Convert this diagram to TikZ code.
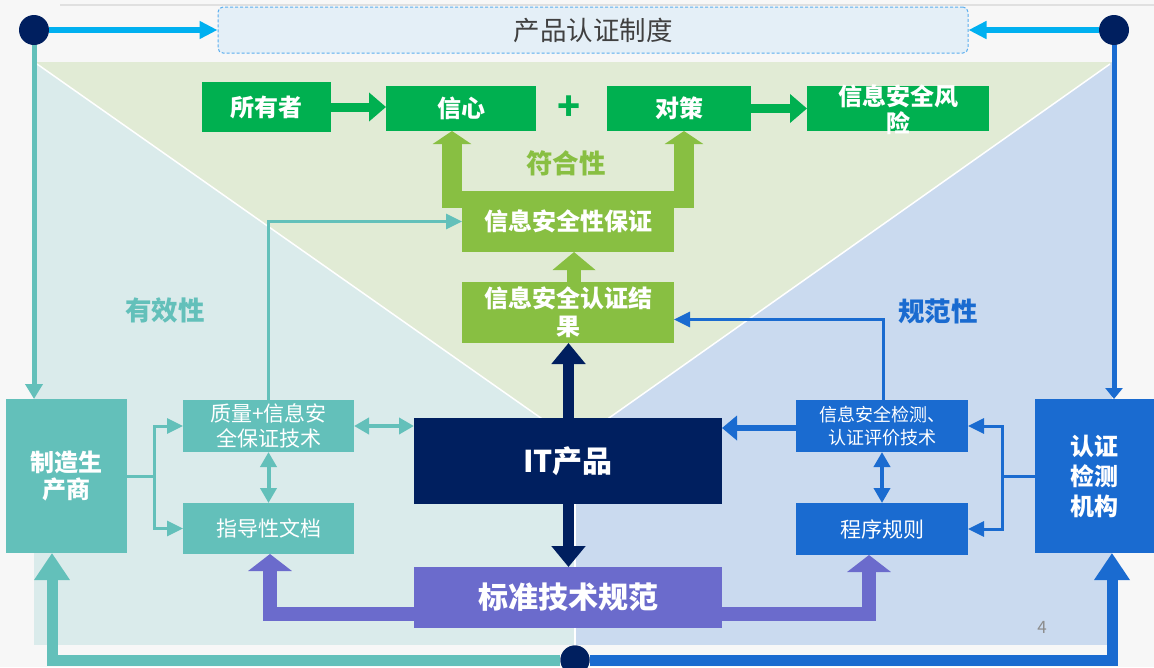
\documentclass[tikz,border=0pt]{standalone}
\usepackage{fontspec}
\setmainfont{Noto Sans CJK SC}
\usetikzlibrary{arrows.meta,calc}
\definecolor{bgc}{HTML}{F7F7F7}
\definecolor{lpanel}{HTML}{DAEBEB}
\definecolor{rpanel}{HTML}{CADAEF}
\definecolor{gpanel}{HTML}{E1EBD5}
\definecolor{tealc}{HTML}{63C0BA}
\definecolor{bluec}{HTML}{1A6BD0}
\definecolor{greenc}{HTML}{00B050}
\definecolor{lgreenc}{HTML}{88BF42}
\definecolor{navyc}{HTML}{001F5F}
\definecolor{purpc}{HTML}{6B6BCC}
\definecolor{cyanc}{HTML}{00B0F0}
\definecolor{topfill}{HTML}{E4EFF7}
\definecolor{topedge}{HTML}{5AAEEF}
\definecolor{toptext}{HTML}{404040}
\definecolor{pgc}{HTML}{8C8C8C}
\tikzset{
  box/.style={inner sep=0pt, outer sep=0pt, align=center, text=white},
  fbig/.style={font=\bfseries\fontsize{24}{27}\selectfont},
  fhuge/.style={font=\bfseries\fontsize{30}{33}\selectfont},
  fmid/.style={font=\fontsize{21}{25}\selectfont},
  fsmall/.style={font=\fontsize{18}{23}\selectfont},
  flabel/.style={font=\bfseries\fontsize{26.5}{30}\selectfont},
  cyanarr/.style={draw=cyanc, line width=6pt, -{Triangle[length=18pt,width=17pt]}},
  tealv/.style={draw=tealc, line width=5pt, -{Triangle[length=15pt,width=17pt]}},
  bluev/.style={draw=bluec, line width=5pt, -{Triangle[length=11pt,width=17pt]}},
  greenh/.style={draw=greenc, line width=9pt, -{Triangle[length=17pt,width=28pt]}},
  lgarr/.style={draw=lgreenc, line width=20pt, miter limit=10, -{Triangle[length=13pt,width=38pt]}},
  lgmid/.style={draw=lgreenc, line width=14pt, -{Triangle[length=18pt,width=42pt]}},
  navyarr/.style={draw=navyc, line width=11pt, -{Triangle[length=21pt,width=33pt]}},
  purparr/.style={draw=purpc, line width=14pt, -{Triangle[length=17pt,width=43pt]}},
  bigteal/.style={draw=tealc, line width=11pt, -{Triangle[length=27pt,width=34pt]}},
  bigblue/.style={draw=bluec, line width=11pt, -{Triangle[length=27pt,width=34pt]}},
  tealline/.style={draw=tealc, line width=3pt},
  tealarr/.style={draw=tealc, line width=3pt, -{Triangle[length=16pt,width=15pt]}},
  tealdbl/.style={draw=tealc, line width=4pt, {Triangle[length=15pt,width=16pt]}-{Triangle[length=15pt,width=16pt]}},
  blueline/.style={draw=bluec, line width=3pt},
  bluearr/.style={draw=bluec, line width=3pt, -{Triangle[length=16pt,width=15pt]}},
  bluedbl/.style={draw=bluec, line width=4pt, {Triangle[length=15pt,width=16pt]}-{Triangle[length=15pt,width=16pt]}},
  bluethick/.style={draw=bluec, line width=6pt, -{Triangle[length=15pt,width=24pt]}},
  dot/.style={circle, fill=navyc, inner sep=0pt, minimum size=30pt}
}
\begin{document}
\begin{tikzpicture}[x=1pt,y=-1pt]
\useasboundingbox (0,0) rectangle (1154,667);
\fill[bgc] (0,0) rectangle (1154,667);
\draw[black!12, line width=2pt] (60,5) -- (1154,5);
% panels
\fill[lpanel] (34,62) rectangle (575,645);
\fill[rpanel] (575,62) rectangle (1112,645);
\fill[gpanel] (34,62) -- (1112,62) -- (575,442) -- cycle;
\draw[white, line width=1.5pt] (37,64) -- (575,442) -- (1110,64);
\draw[white, line width=1.5pt] (575,442) -- (575,645);

% dots
\node[dot] (tl) at (34,30) {};
\node[dot] (tr) at (1114,30) {};

% top box
\node[draw=topedge, dashed, dash pattern=on 3pt off 2pt, line width=1pt, rounded corners=5pt,
      fill=topfill, minimum width=750pt, minimum height=46pt, inner sep=0pt,
      text=toptext, font=\fontsize{26.5}{29}\selectfont] (topbox) at (593,30) {产品认证制度};

% green row
\node[box, fill=greenc, minimum width=129pt, minimum height=50pt, fbig] (owner) at (266.5,107) {所有者};
\node[box, fill=greenc, minimum width=150pt, minimum height=45pt, fbig] (trust) at (461,108.5) {信心};
\node[box, fill=greenc, minimum width=144pt, minimum height=45pt, fbig] (measure) at (679,108.5) {对策};
\node[box, fill=greenc, minimum width=182pt, minimum height=45pt] (risk) at (898,108.5) {};
\node[box, fbig] (riskt) at (898,110) {信息安全风\\险};
\node[text=greenc, font=\bfseries\fontsize{38}{40}\selectfont, inner sep=0pt] (plus) at (569,108) {+};

% light green boxes
\node[box, fill=lgreenc, minimum width=212pt, minimum height=61pt, fbig] (assure) at (568,221.5) {信息安全性保证};
\node[box, fill=lgreenc, minimum width=212pt, minimum height=61pt, fbig, font=\bfseries\fontsize{24}{28}\selectfont] (result) at (568,312.5) {信息安全认证结\\果};
\node[text=lgreenc, flabel, inner sep=0pt] (conf) at (566,163) {符合性};

% center
\node[box, fill=navyc, minimum width=308pt, minimum height=86pt, fhuge] (it) at (568,461) {IT产品};
\node[box, fill=purpc, minimum width=308pt, minimum height=61pt, fhuge] (std) at (568,597.5) {标准技术规范};

% left
\node[box, fill=tealc, minimum width=121pt, minimum height=154pt, fbig] (maker) at (66.5,476) {制造生\\产商};
\node[box, fill=tealc, minimum width=171pt, minimum height=52pt, fmid] (qual) at (268.5,426) {质量+信息安\\全保证技术};
\node[box, fill=tealc, minimum width=171pt, minimum height=51pt, fmid] (guide) at (268.5,528.5) {指导性文档};
\node[text=tealc, flabel, inner sep=0pt] (eff) at (165,310) {有效性};

% right
\node[box, fill=bluec, minimum width=172pt, minimum height=52pt, fsmall] (tech) at (882,426) {信息安全检测、\\认证评价技术};
\node[box, fill=bluec, minimum width=172pt, minimum height=52pt, fmid] (rule) at (882,529) {程序规则};
\node[box, fill=bluec, minimum width=119pt, minimum height=154pt, font=\bfseries\fontsize{24}{30}\selectfont] (org) at (1094.5,476) {认证\\检测\\机构};
\node[text=bluec, flabel, inner sep=0pt] (norm) at (938,311) {规范性};

\node[text=pgc, font=\fontsize{17}{20}\selectfont, inner sep=0pt] (pg) at (1042,627) {4};

% bottom dot
\node[dot, minimum size=29pt] (bc) at (575,660) {};

% top connectors
\draw[cyanarr] (tl.east) -- (topbox.west);
\draw[cyanarr] (tr.west) -- (topbox.east);
\draw[tealv] (tl.south) -- (tl.south |- maker.north);
\draw[bluev] (tr.south) -- (tr.south |- org.north);

% green row arrows
\draw[greenh] (owner.east) -- (trust.west |- owner.east);
\draw[greenh] (measure.east) -- (risk.west);

% light green arrows
\coordinate (lgL) at (452,198);
\coordinate (lgR) at (684,198);
\draw[lgarr] ([yshift=-7pt]assure.north west) -- (lgL) -- (lgL |- trust.south);
\draw[lgarr] ([yshift=-7pt]assure.north east) -- (lgR) -- (lgR |- measure.south);
\draw[lgmid] ([xshift=6pt]result.north) -- ([xshift=6pt]assure.south);

% navy arrows
\draw[navyarr] ([xshift=0.5pt]it.north) -- ([xshift=0.5pt]result.south);
\draw[navyarr] ([xshift=0.5pt]it.south) -- ([xshift=0.5pt]std.north);

% purple arrows
\draw[purparr] ([yshift=-16.5pt]std.west) -| ([xshift=1.5pt]guide.south);
\draw[purparr] ([yshift=-16.5pt]std.east) -| ([xshift=-13pt]rule.south);

% big bottom arrows
\draw[bigteal] (bc.west) -| ([xshift=-14.5pt]maker.south);
\draw[bigblue] (bc.east) -| ([xshift=17.5pt]org.south);
\node[dot, minimum size=29pt] (bc2) at (bc) {};

% left connectors
\coordinate (mj) at (154,476);
\draw[tealline] (maker.east) -- (mj);
\draw[tealarr] (mj) |- (qual.west);
\draw[tealarr] (mj) |- (guide.west);
\draw[tealdbl] (qual.south) -- (guide.north);
\draw[tealdbl] (qual.east) -- (qual.east -| it.west);
\draw[tealarr] (qual.north) |- (assure.west);

% right connectors
\coordinate (oj) at (1002,476);
\draw[blueline] (org.west) -- (oj);
\draw[bluearr] (oj) |- (tech.east);
\draw[bluearr] (oj) |- (rule.east);
\draw[bluedbl] (tech.south) -- (rule.north);
\draw[bluethick] ([yshift=-2pt]tech.west) -- ([yshift=-2pt]tech.west -| it.east);
\draw[bluearr] ([xshift=1pt]tech.north) |- ([yshift=-7pt]result.east);
\end{tikzpicture}
\end{document}
